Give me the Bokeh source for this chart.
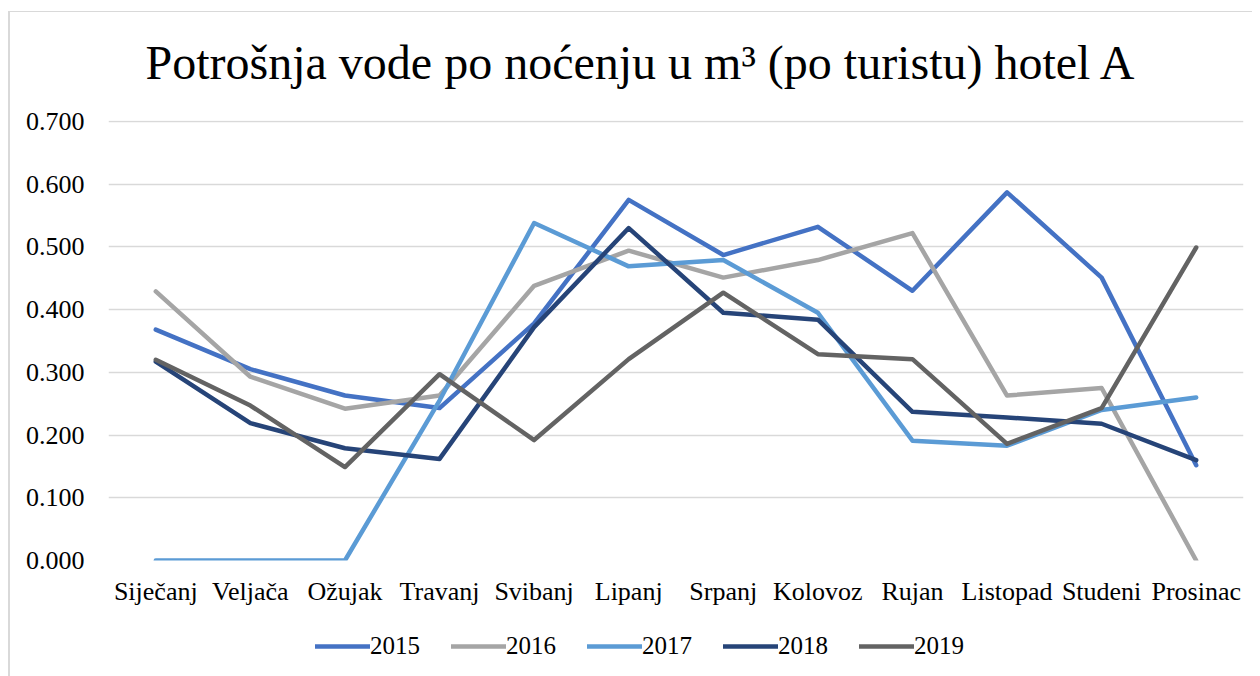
from bokeh.plotting import figure
from bokeh.layouts import column
from bokeh.models import (FactorRange, Range1d, Legend, LegendItem, NumeralTickFormatter,
                          FixedTicker, Title)
from bokeh.embed import file_html
from bokeh.resources import INLINE

months = ["Siječanj", "Veljača", "Ožujak", "Travanj", "Svibanj", "Lipanj",
          "Srpanj", "Kolovoz", "Rujan", "Listopad", "Studeni", "Prosinac"]
years = ["2015", "2016", "2017", "2018", "2019"]
y2015 = [0.368, 0.305, 0.263, 0.243, 0.378, 0.575, 0.487, 0.532, 0.430, 0.587, 0.451, 0.152]
y2016 = [0.429, 0.293, 0.242, 0.263, 0.438, 0.494, 0.451, 0.479, 0.522, 0.263, 0.275, 0.000]
y2017 = [0.000, 0.000, 0.000, 0.255, 0.538, 0.469, 0.479, 0.395, 0.191, 0.183, 0.240, 0.260]
y2018 = [0.317, 0.219, 0.179, 0.162, 0.372, 0.530, 0.395, 0.384, 0.237, 0.228, 0.218, 0.160]
y2019 = [0.320, 0.247, 0.149, 0.297, 0.192, 0.321, 0.427, 0.329, 0.321, 0.186, 0.243, 0.499]
series = [y2015, y2016, y2017, y2018, y2019]
colors = ["#4472C4", "#A5A5A5", "#5B9BD5", "#264478", "#636363"]
yticks = [0.0, 0.1, 0.2, 0.3, 0.4, 0.5, 0.6, 0.7]

FONT = "Liberation Serif"
LW = 4.5

xr = FactorRange(factors=months)
p = figure(width=1242, height=608, x_range=xr,
           y_range=Range1d(0, 0.7015), output_backend="svg", toolbar_location=None,
           min_border_left=98, min_border_right=9, min_border_top=108, min_border_bottom=60)

# spacer between the title and the plot area
p.add_layout(Title(text=" ", text_font_size="13px", text_font=FONT), "above")

p.title.text = "Potrošnja vode po noćenju u m³ (po turistu) hotel A"
p.title.text_font = FONT
p.title.text_font_size = "48px"
p.title.text_font_style = "normal"
p.title.align = "left"
p.title.offset = 37
p.title.text_color = "#000000"

p.outline_line_color = None
p.xgrid.grid_line_color = None
p.ygrid.grid_line_color = "#d9d9d9"
p.ygrid.grid_line_width = 1.5

p.yaxis.ticker = FixedTicker(ticks=yticks)
p.yaxis.formatter = NumeralTickFormatter(format="0.000")
for ax in (p.xaxis[0], p.yaxis[0]):
    ax.axis_line_color = None
    ax.major_tick_line_color = None
    ax.minor_tick_line_color = None
    ax.major_label_text_font = FONT
    ax.major_label_text_font_size = "26px"
    ax.major_label_text_color = "#000000"
p.yaxis.major_label_standoff = 18
p.xaxis.major_label_standoff = 10

for vals, c in zip(series, colors):
    p.line(x=months, y=vals, line_color=c, line_width=LW,
           line_join="round", line_cap="round")

# legend strip below the chart (same series, drawn out of view; only the legend shows)
pl = figure(width=1242, height=56, x_range=xr, y_range=Range1d(5, 6),
            output_backend="svg", toolbar_location=None, x_axis_type=None, y_axis_type=None,
            min_border_left=0, min_border_right=0, min_border_top=0, min_border_bottom=0)
pl.grid.visible = False
pl.outline_line_color = None
items = []
for yr, vals, c in zip(years, series, colors):
    r = pl.line(x=months, y=vals, line_color=c, line_width=LW, line_cap="round")
    items.append(LegendItem(label=yr, renderers=[r]))
legend = Legend(items=items, orientation="horizontal", location=(207, 16),
                label_text_font=FONT, label_text_font_size="25px",
                label_text_color="#000000", glyph_width=55, glyph_height=20,
                label_standoff=0, spacing=31, border_line_color=None,
                background_fill_alpha=0, padding=4, margin=0)
pl.add_layout(legend, "center")

layout = column(p, pl, spacing=0, margin=(11, 0, 0, 8),
                styles={"border-left": "2px solid #d9d9d9", "border-top": "1px solid #d9d9d9"})
open("out.html", "w").write(file_html(layout, INLINE))
